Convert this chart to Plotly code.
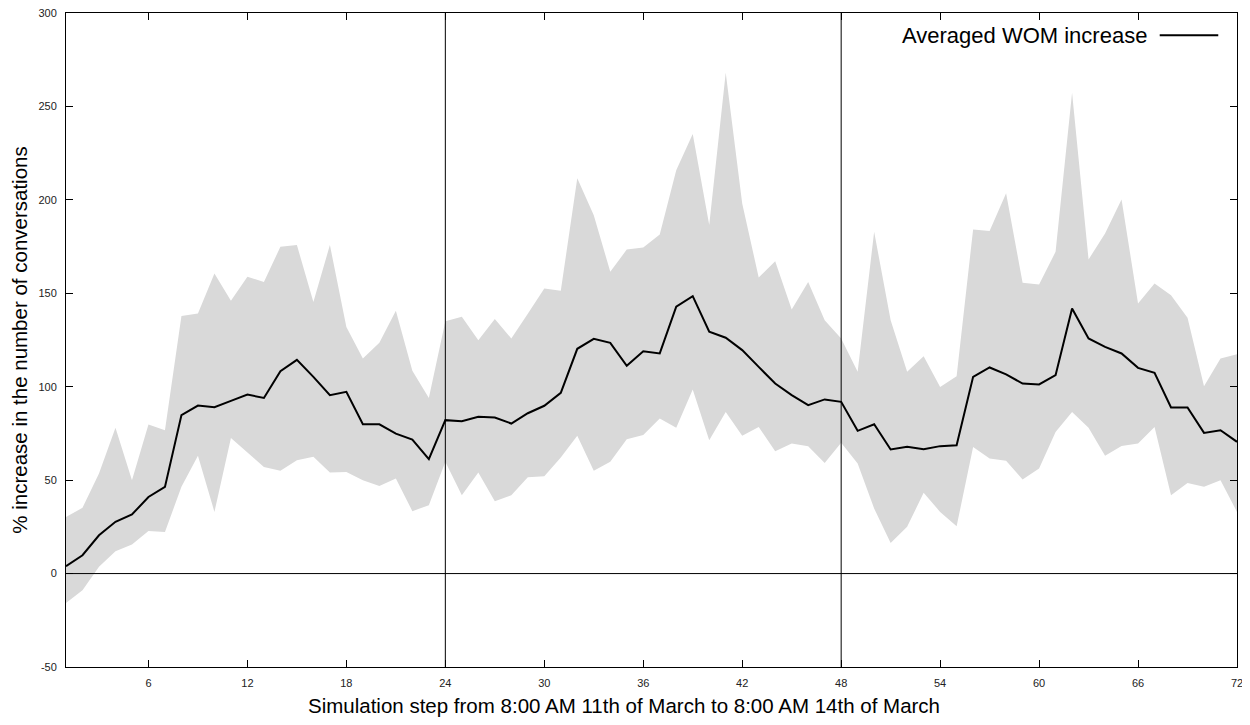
import plotly.graph_objects as go

steps = list(range(1, 73))

mean_wom = [3.9, 9.8, 20.5, 27.7, 31.6, 41.0, 46.4, 84.8, 89.9, 89.0,
            92.4, 95.8, 94.0, 108.3, 114.4, 105.3, 95.5, 97.3, 79.9, 79.9,
            74.9, 71.7, 61.2, 82.1, 81.5, 83.9, 83.5, 80.3, 85.8, 89.8,
            96.7, 120.3, 125.6, 123.5, 111.2, 119.0, 117.8, 142.8, 148.5, 129.4,
            126.2, 119.6, 110.6, 101.7, 95.5, 90.1, 93.2, 91.9, 76.4, 79.9,
            66.4, 67.8, 66.6, 68.2, 68.7, 105.3, 110.3, 106.6, 101.7, 101.2,
            106.2, 141.9, 125.8, 121.3, 117.8, 110.1, 107.4, 88.9, 88.9, 75.3,
            76.7, 70.5]

upper_wom = [30.3, 35.2, 53.5, 78.0, 50.0, 79.8, 76.7, 137.8, 139.2, 160.6,
             146.0, 158.8, 156.1, 174.9, 175.8, 145.4, 175.8, 132.0, 115.1, 123.5,
             140.6, 108.5, 94.0, 135.1, 137.4, 124.9, 136.2, 125.8, 139.0, 152.6,
             151.3, 211.5, 191.8, 161.5, 173.4, 174.5, 181.5, 215.9, 235.2, 186.5,
             268.0, 198.0, 158.5, 167.2, 141.3, 156.1, 135.6, 125.8, 108.0, 182.9,
             135.6, 108.0, 116.3, 99.9, 105.6, 184.2, 183.3, 203.6, 155.6, 154.7,
             172.2, 257.3, 168.1, 182.0, 200.2, 144.5, 155.2, 149.0, 136.9, 100.3,
             115.1, 117.4]

lower_wom = [-15.7, -8.9, 3.6, 12.0, 15.5, 22.8, 22.3, 46.4, 63.0, 33.0,
             72.6, 65.0, 57.1, 55.0, 60.7, 62.5, 54.1, 54.4, 50.0, 46.8,
             50.9, 33.4, 36.6, 59.8, 41.9, 54.1, 38.7, 41.9, 51.5, 52.1,
             62.1, 73.7, 55.0, 59.8, 71.9, 74.1, 83.0, 78.0, 98.5, 71.4,
             86.5, 73.7, 78.5, 65.5, 69.6, 68.2, 59.2, 70.0, 58.9, 34.8,
             16.4, 25.0, 43.2, 33.0, 25.3, 67.8, 61.6, 60.4, 50.3, 56.2,
             75.8, 86.5, 78.0, 63.0, 68.3, 69.6, 78.5, 41.9, 48.5, 46.4,
             50.0, 33.0]

x_ticks = [6, 12, 18, 24, 30, 36, 42, 48, 54, 60, 66, 72]
y_ticks = [-50, 0, 50, 100, 150, 200, 250, 300]
day_marks = [24, 48]

fig = go.Figure()
fig.add_trace(go.Scatter(x=steps, y=lower_wom, mode="lines",
                         line=dict(width=0, color="#d9d9d9"),
                         showlegend=False, hoverinfo="skip"))
fig.add_trace(go.Scatter(x=steps, y=upper_wom, mode="lines",
                         line=dict(width=0, color="#d9d9d9"),
                         fill="tonexty", fillcolor="#d9d9d9",
                         showlegend=False, hoverinfo="skip"))
fig.add_trace(go.Scatter(x=steps, y=mean_wom, mode="lines",
                         line=dict(width=2, color="black"),
                         name="Averaged WOM increase", showlegend=False))

for d in day_marks:
    fig.add_shape(type="line", xref="x", yref="paper", x0=d, x1=d, y0=0, y1=1,
                  line=dict(color="black", width=1))
fig.add_shape(type="line", xref="paper", yref="y", x0=0, x1=1, y0=0, y1=0,
              line=dict(color="black", width=1))

# legend (text then line sample, gnuplot style)
fig.add_annotation(xref="paper", yref="paper", x=0.925, y=0.966,
                   xanchor="right", yanchor="middle", showarrow=False,
                   text="Averaged WOM increase",
                   font=dict(family="Liberation Sans, Arial, sans-serif", size=22, color="black"))
fig.add_shape(type="line", xref="paper", yref="paper", x0=0.934, x1=0.984,
              y0=0.966, y1=0.966, line=dict(color="black", width=2))

tick_font = dict(family="Liberation Sans Narrow, Arial Narrow, Liberation Sans, sans-serif",
                 size=11, color="#222222")
title_font = dict(family="Liberation Sans, Arial, sans-serif", size=20.5, color="black")

# x-axis title, centred on the page as in the reference
fig.add_annotation(xref="paper", yref="paper", x=0.4765, y=0, yshift=-38,
                   xanchor="center", yanchor="middle", showarrow=False,
                   text="Simulation step from 8:00 AM 11th of March to 8:00 AM 14th of March",
                   font=title_font)

fig.update_xaxes(range=[1, 72], tickvals=x_ticks, ticktext=[str(v) for v in x_ticks],
                 showgrid=False, zeroline=False, showline=True, linecolor="black",
                 linewidth=1, mirror="ticks", ticks="inside", ticklen=7,
                 tickcolor="black", tickfont=tick_font, automargin=False,
                 ticklabelstandoff=6, ticklabeloverflow="allow")
fig.update_yaxes(range=[-50, 300], tickvals=y_ticks, ticktext=[str(v) for v in y_ticks],
                 showgrid=False, zeroline=False, showline=True, linecolor="black",
                 linewidth=1, mirror="ticks", ticks="inside", ticklen=7,
                 tickcolor="black", tickfont=tick_font, automargin=False,
                 ticklabelstandoff=6, ticklabeloverflow="allow",
                 title=dict(text="% increase in the number of conversations",
                            font=title_font, standoff=10))

# page body has an 8px margin, so the figure is sized/offset to land on the reference frame
fig.update_layout(width=1242, height=717, paper_bgcolor="white", plot_bgcolor="white",
                  margin=dict(l=58, r=13, t=5, b=58), showlegend=False)

fig.write_html("out.html")
